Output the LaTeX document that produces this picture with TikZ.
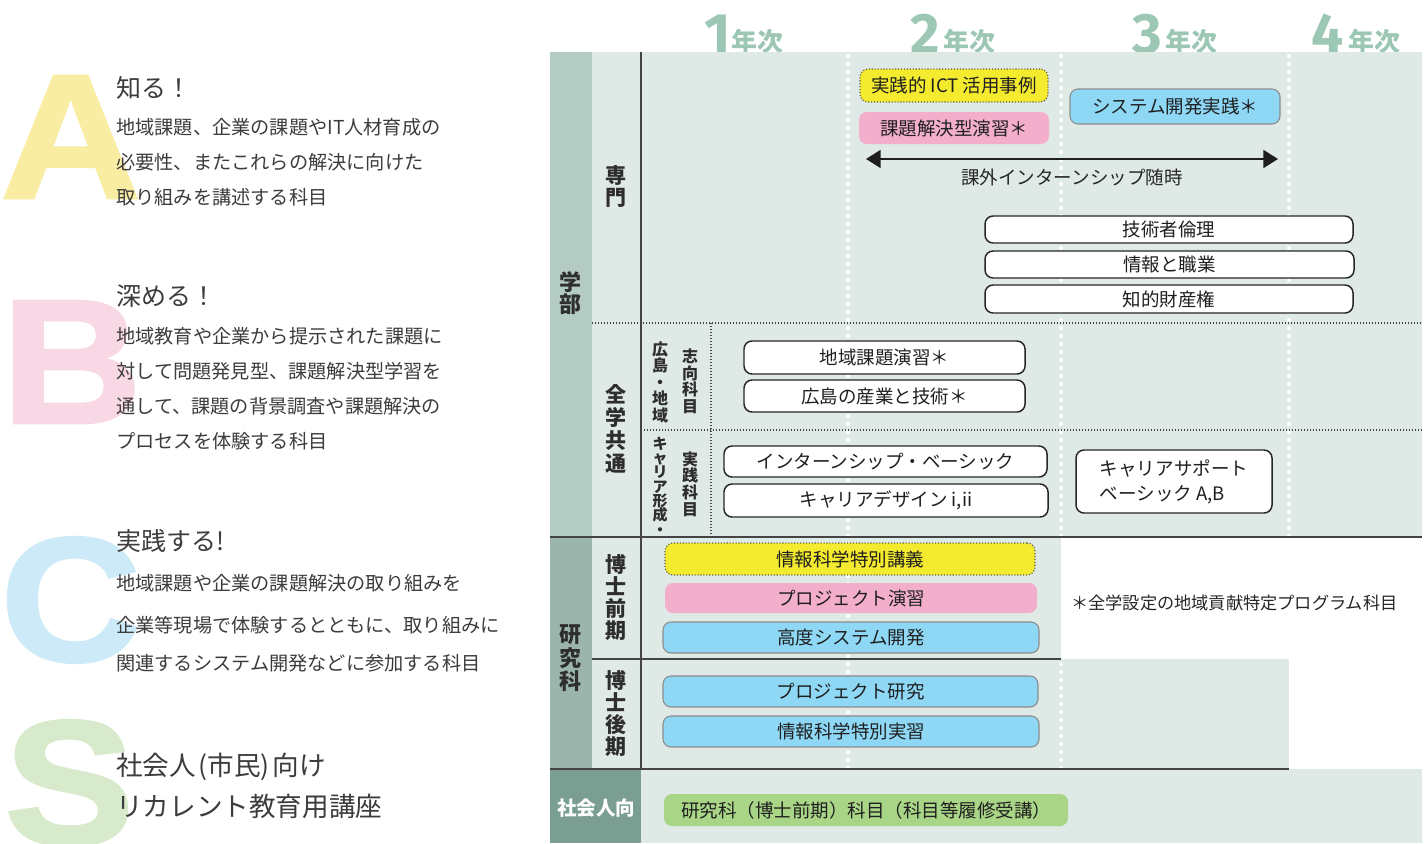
\documentclass[tikz,border=0pt]{standalone}
\usepackage{fontspec}
\setmainfont{Noto Sans CJK JP}
\newfontfamily\bigfont[BoldFeatures={FakeBold=1.5}]{Liberation Sans}
\newfontfamily\digfont{Fira Sans}
\usetikzlibrary{arrows.meta}
\definecolor{txt}{HTML}{3C3C3C}
\definecolor{cA}{HTML}{F8EDA3}
\definecolor{cB}{HTML}{F9D8E6}
\definecolor{cC}{HTML}{CCEAF8}
\definecolor{cS}{HTML}{D7EBCC}
\definecolor{hdr}{HTML}{9DC7B5}
\definecolor{bgl}{HTML}{DFE9E5}
\definecolor{colA}{HTML}{B3CBC3}
\definecolor{colK}{HTML}{9BB5AC}
\definecolor{colS}{HTML}{7B9E93}
\definecolor{lin}{HTML}{444444}
\definecolor{yb}{HTML}{F4EA2E}
\definecolor{pb}{HTML}{F3AECB}
\definecolor{bb}{HTML}{8ED8F6}
\definecolor{gb}{HTML}{A9D586}
\newcommand\fpx[1]{\fontsize{\fpeval{#1*0.75}pt}{\fpeval{#1*0.9}pt}\selectfont}
\newcommand\vfnt[2]{\fontsize{\fpeval{#1*0.75}pt}{\fpeval{#2*0.75}pt}\selectfont\lineskiplimit=-100pt\relax}
\newcommand\cbox[7]{\node[#2, minimum width=\fpeval{(#5-#3)*0.75}pt, minimum height=\fpeval{(#6-#4)*0.75}pt] (#1) at ({(#3+#5)/2},{(#4+#6)/2}) {#7};}
\newcommand\wide[1]{\scalebox{1.1}[1]{#1}}
\begin{document}
\begin{tikzpicture}[x=0.75pt,y=-0.75pt,
  bigL/.style={font=\bigfont\bfseries\fontsize{133pt}{133pt}\selectfont, inner sep=0pt, anchor=base west},
  hd/.style={font=\fpx{25}, text=txt, inner sep=0pt, anchor=base west},
  sd/.style={font=\fpx{26.6}, text=txt, inner sep=0pt, anchor=base west},
  bd/.style={font=\fpx{19.2}, text=txt, inner sep=0pt, anchor=base west},
  yrn/.style={font=\digfont\bfseries\fpx{57}, text=hdr, inner sep=0pt, anchor=base},
  yrk/.style={font=\bfseries\fpx{26}, text=hdr, inner sep=0pt, anchor=base},
  wdot/.style={white, line width=3.1pt, line cap=round, dash pattern=on 0pt off 6pt},
  ddot/.style={lin, line width=0.9pt, dash pattern=on 0.9pt off 1.35pt},
  hline/.style={lin, line width=1.5pt},
  vline/.style={lin, line width=1.1pt},
  rb/.style={rounded corners=6pt, inner sep=0pt, font=\fpx{18.5}, text=black!88},
  wbox/.style={rb, draw=black!85, line width=1.1pt, fill=white},
  ybox/.style={rb, draw=black!65, line width=0.9pt, dash pattern=on 0.8pt off 1.4pt, fill=yb},
  pbox/.style={rb, fill=pb},
  bbox/.style={rb, draw=black!45, line width=0.8pt, fill=bb},
  gbox/.style={rb, fill=gb},
  vlab/.style={inner sep=0pt, align=center, text=black!82},
  arr/.style={{Triangle[length=11pt,width=13.5pt]}-{Triangle[length=11pt,width=13.5pt]}, line width=1.4pt, black!88}
]
\useasboundingbox (0,0) rectangle (1426,843);
\fill[white] (0,0) rectangle (1426,843);

% big letters
\node[bigL, text=cA] (bigA) at (0,198) {\wide{A}};
\node[bigL, text=cB] (bigB) at (1,423) {\wide{B}};
\node[bigL, text=cC] (bigC) at (0,661) {\wide{C}};
\node[bigL, text=cS] (bigS) at (4,844) {\wide{S}};

% left texts
\node[hd] (hA) at (116,97.5) {知る！};
\node[bd] (tA1) at (116,134) {地域課題、企業の課題やIT人材育成の};
\node[bd] (tA2) at (116,169) {必要性、またこれらの解決に向けた};
\node[bd] (tA3) at (116,204) {取り組みを講述する科目};

\node[hd] (hB) at (116,305) {深める！};
\node[bd] (tB1) at (116,343) {地域教育や企業から提示された課題に};
\node[bd] (tB2) at (116,378) {対して問題発見型、課題解決型学習を};
\node[bd] (tB3) at (116,413) {通して、課題の背景調査や課題解決の};
\node[bd] (tB4) at (116,448) {プロセスを体験する科目};

\node[hd] (hC) at (116,550) {実践する!};
\node[bd] (tC1) at (116,590.5) {地域課題や企業の課題解決の取り組みを};
\node[bd] (tC2) at (116,632) {企業等現場で体験するとともに、取り組みに};
\node[bd] (tC3) at (116,670) {関連するシステム開発などに参加する科目};

\node[sd] (tS1) at (116,775.5) {社会人\kern2pt(市民)\kern2pt向け};
\node[sd] (tS2) at (116,816.5) {リカレント教育用講座};

% year header
\node[yrn] (y1n) at (718,53) {1};
\node[yrk] (y1k) at (757.5,51) {年次};
\node[yrn] (y2n) at (925.5,53) {2};
\node[yrk] (y2k) at (969,51) {年次};
\node[yrn] (y3n) at (1147.5,53) {3};
\node[yrk] (y3k) at (1191,51) {年次};
\node[yrn] (y4n) at (1327.5,53) {4};
\node[yrk] (y4k) at (1374,51) {年次};

% table backgrounds
\fill[bgl] (592,52) rectangle (1422,537);
\fill[bgl] (592,537) rectangle (1061,659);
\fill[bgl] (592,659) rectangle (1289,769);
\fill[bgl] (641,769) rectangle (1422,843);
\fill[colA] (550,52) rectangle (592,537);
\fill[colK] (550,537) rectangle (592,769);
\fill[colS] (550,769) rectangle (641,843);

% white dotted year separators
\draw[wdot] (848,56) -- (848,769);
\draw[wdot] (1061,56) -- (1061,537);
\draw[wdot] (1061,664) -- (1061,769);
\draw[wdot] (1289,56) -- (1289,537);

% dark lines
\draw[vline] (641,52) -- (641,769);
\draw[hline] (550,537) -- (1422,537);
\draw[hline] (592,659) -- (1061,659);
\draw[hline] (550,769) -- (1289,769);
\draw[ddot] (592,323) -- (1422,323);
\draw[ddot] (641,430) -- (1422,430);
\draw[ddot] (711,323) -- (711,537);

% row labels
\node[vlab, font=\bfseries\vfnt{22}{22}] (lGakubu) at (570,293) {学\\部};
\node[vlab, font=\bfseries\vfnt{21}{22}] (lSenmon) at (616,187) {専\\門};
\node[vlab, font=\bfseries\vfnt{21}{23}] (lZengaku) at (616,429) {全\\学\\共\\通};
\node[vlab, font=\bfseries\vfnt{16}{16.5}] (lHiro) at (660,382) {広\\島\\・\\地\\域};
\node[vlab, font=\bfseries\vfnt{16}{16.5}] (lShikou) at (690,381.5) {志\\向\\科\\目};
\node[vlab, font=\bfseries\vfnt{15}{14.3}] (lCareer) at (660,486) {キ\\ャ\\リ\\ア\\形\\成\\・};
\node[vlab, font=\bfseries\vfnt{16}{16.7}] (lJissen) at (690,484) {実\\践\\科\\目};
\node[vlab, font=\bfseries\vfnt{22}{23.5}] (lKenkyu) at (570,658.5) {研\\究\\科};
\node[vlab, font=\bfseries\vfnt{21}{22.3}] (lZenki) at (616,597.5) {博\\士\\前\\期};
\node[vlab, font=\bfseries\vfnt{21}{22.3}] (lKouki) at (616,713.5) {博\\士\\後\\期};
\node[vlab, font=\bfseries\fpx{19.5}, text=white] (lShakai) at (596,808) {社会人向};

% boxes
\cbox{bICT}{ybox}{860}{69}{1048}{102}{実践的 ICT 活用事例}
\cbox{bKadai}{pbox}{859}{112}{1049}{144}{課題解決型演習＊}
\cbox{bSys}{bbox}{1070}{89}{1280}{124}{システム開発実践＊}
\coordinate (arrL) at (866,159);
\coordinate (arrR) at (1278,159);
\draw[arr] (arrL) -- (arrR);
\node[inner sep=0pt, font=\fpx{18.5}, text=black!85] (lIntern) at (1072,177) {課外インターンシップ随時};
\cbox{bRinri}{wbox}{985}{216}{1353}{243}{技術者倫理}
\cbox{bShoku}{wbox}{985}{251}{1354}{278}{情報と職業}
\cbox{bChizai}{wbox}{985}{285}{1353}{313}{知的財産権}
\cbox{bChiiki}{wbox}{744}{341}{1025}{374}{地域課題演習＊}
\cbox{bSangyo}{wbox}{744}{380}{1025}{412}{広島の産業と技術＊}
\cbox{bIntB}{wbox}{724}{446}{1047}{477}{インターンシップ・ベーシック}
\cbox{bDesign}{wbox}{724}{484}{1048}{517}{キャリアデザイン i,ii}
\node[wbox, align=left, font=\fontsize{13.9pt}{18.75pt}\selectfont, minimum width=147pt, minimum height=47.25pt] (bSupport) at (1174,481.5) {キャリアサポート\\ベーシック A,B};
\cbox{bKougi}{ybox}{665}{543}{1035}{575}{情報科学特別講義}
\cbox{bPEn}{pbox}{665}{583}{1037}{613}{プロジェクト演習}
\cbox{bKoudo}{bbox}{663}{622}{1039}{653}{高度システム開発}
\cbox{bPKen}{bbox}{663}{676}{1038}{707}{プロジェクト研究}
\cbox{bJisshu}{bbox}{663}{716}{1039}{747}{情報科学特別実習}
\cbox{bRishu}{gbox}{664}{794}{1068}{826}{研究科（博士前期）科目（科目等履修受講）}

% footnote
\node[inner sep=0pt, anchor=base west, font=\fpx{17.2}, text=black!85] (note) at (1071,609) {＊全学設定の地域貢献特定プログラム科目};
\end{tikzpicture}
\end{document}
